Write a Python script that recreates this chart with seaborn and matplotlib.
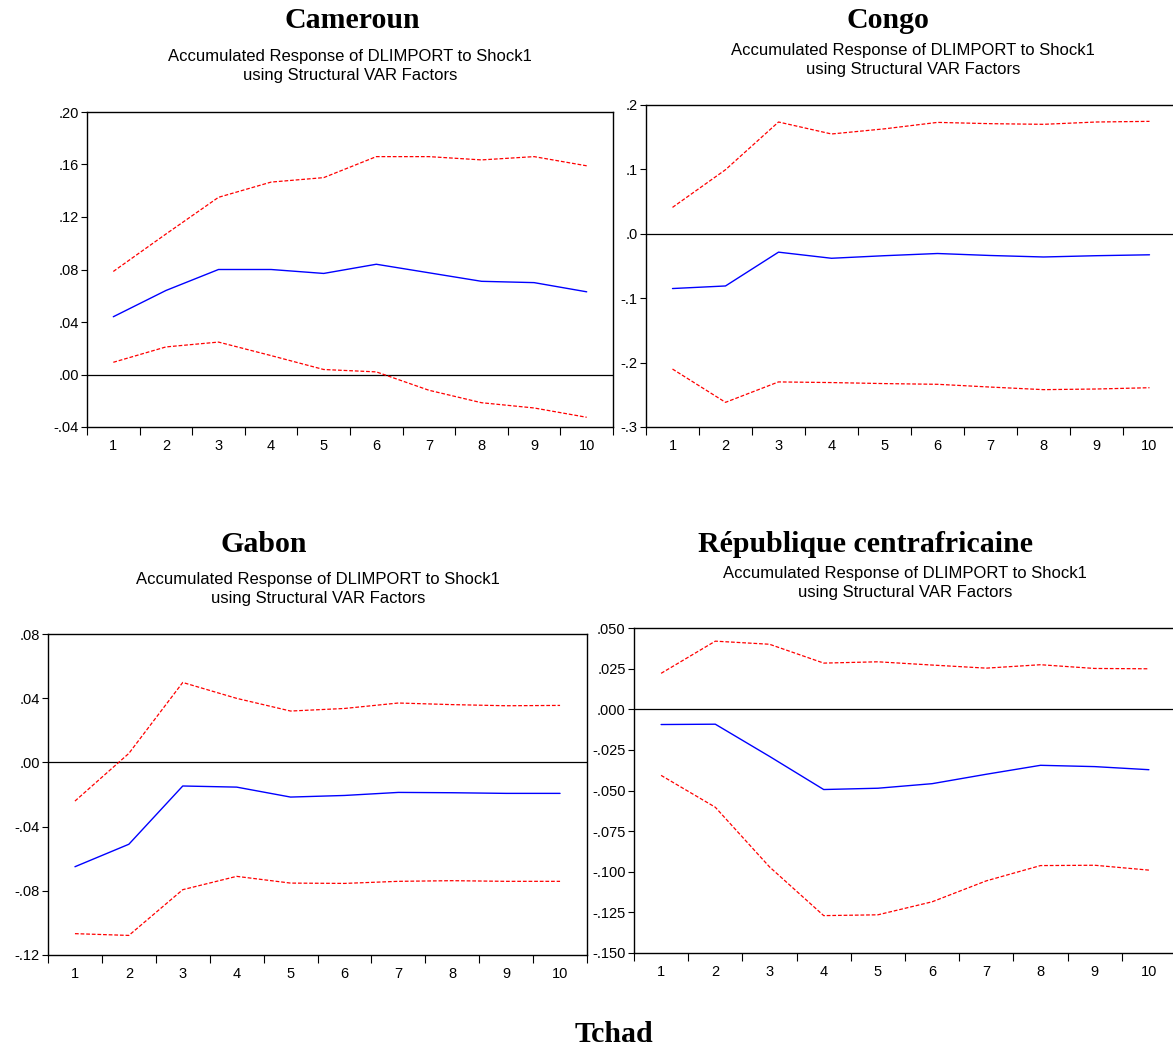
import numpy as np
import pandas as pd
import matplotlib
matplotlib.use("Agg")
import matplotlib.pyplot as plt
import seaborn as sns

sns.set_style("white")
plt.rcParams['font.family'] = ['Liberation Sans', 'DejaVu Sans']
plt.rcParams['text.color'] = 'black'
plt.rcParams['xtick.color'] = 'black'
plt.rcParams['ytick.color'] = 'black'

steps = [1, 2, 3, 4, 5, 6, 7, 8, 9, 10]
subtitle = "Accumulated Response of DLIMPORT to Shock1\nusing Structural VAR Factors"

# Cameroun
cmr_resp = [0.044, 0.064, 0.080, 0.080, 0.077, 0.084, 0.0775, 0.071, 0.070, 0.063]
cmr_up = [0.0785, 0.107, 0.135, 0.1466, 0.150, 0.166, 0.166, 0.1635, 0.166, 0.159]
cmr_lo = [0.0093, 0.021, 0.0247, 0.0144, 0.0038, 0.002, -0.012, -0.0215, -0.0255, -0.0326]
cmr_ticks = [-0.04, 0.00, 0.04, 0.08, 0.12, 0.16, 0.20]
cmr_labels = ["-.04", ".00", ".04", ".08", ".12", ".16", ".20"]

# Congo
cog_resp = [-0.085, -0.081, -0.0285, -0.038, -0.034, -0.0306, -0.0337, -0.036, -0.034, -0.0326]
cog_up = [0.041, 0.0995, 0.1736, 0.155, 0.163, 0.173, 0.171, 0.170, 0.1736, 0.1746]
cog_lo = [-0.21, -0.2617, -0.230, -0.231, -0.2326, -0.2337, -0.238, -0.242, -0.241, -0.239]
cog_ticks = [-0.3, -0.2, -0.1, 0.0, 0.1, 0.2]
cog_labels = ["-.3", "-.2", "-.1", ".0", ".1", ".2"]

# Gabon
gab_resp = [-0.065, -0.051, -0.0147, -0.0154, -0.0216, -0.0206, -0.0187, -0.0189, -0.0193, -0.0193]
gab_up = [-0.0241, 0.0056, 0.0498, 0.0399, 0.032, 0.0336, 0.037, 0.036, 0.0353, 0.0355]
gab_lo = [-0.1067, -0.1078, -0.0793, -0.071, -0.0752, -0.0754, -0.0741, -0.0737, -0.0741, -0.0741]
gab_ticks = [-0.12, -0.08, -0.04, 0.00, 0.04, 0.08]
gab_labels = ["-.12", "-.08", "-.04", ".00", ".04", ".08"]

# Republique centrafricaine
rca_resp = [-0.0094, -0.0092, -0.029, -0.0494, -0.0486, -0.0458, -0.040, -0.0345, -0.0353, -0.0372]
rca_up = [0.0221, 0.0419, 0.040, 0.0284, 0.0292, 0.0272, 0.0253, 0.0274, 0.0251, 0.0249]
rca_lo = [-0.0407, -0.0603, -0.097, -0.127, -0.1265, -0.1185, -0.1056, -0.0962, -0.096, -0.099]
rca_ticks = [-0.150, -0.125, -0.100, -0.075, -0.050, -0.025, 0.000, 0.025, 0.050]
rca_labels = ["-.150", "-.125", "-.100", "-.075", "-.050", "-.025", ".000", ".025", ".050"]

W, H = 1173, 1049
fig = plt.figure(figsize=(W / 100, H / 100), dpi=100)


def px_axes(l, t, r, b):
    return fig.add_axes([l / W, 1 - b / H, (r - l) / W, (b - t) / H])


def draw(ax, resp, up, lo, ticks, labels):
    sns.lineplot(x=steps, y=up, ax=ax, color="#ff0000", lw=0.9, linestyle=(0, (3, 1.5)))
    sns.lineplot(x=steps, y=lo, ax=ax, color="#ff0000", lw=0.9, linestyle=(0, (3, 1.5)))
    sns.lineplot(x=steps, y=resp, ax=ax, color="#0000ff", lw=1.0)
    ax.axhline(0, color="black", lw=0.9, zorder=1)
    ax.set_xlim(0.5, 10.5)
    ax.set_ylim(ticks[0], ticks[-1])
    ax.set_yticks(ticks)
    ax.set_yticklabels(labels)
    ax.set_xticks(np.arange(0.5, 11, 1))
    ax.set_xticklabels([])
    ax.set_xticks(steps, minor=True)
    ax.set_xticklabels([str(s) for s in steps], minor=True)
    ax.tick_params(axis="x", which="major", direction="out", length=6, width=0.8, bottom=True)
    ax.tick_params(axis="x", which="minor", length=0, pad=9, labelsize=10.5)
    ax.tick_params(axis="y", direction="out", length=4, width=0.8, left=True, pad=2, labelsize=10.5)
    for s in ax.spines.values():
        s.set_color("black")
        s.set_linewidth(1.0)
    ax.set_xlabel("")
    ax.set_ylabel("")


ax1 = px_axes(87, 112, 613, 427)
draw(ax1, cmr_resp, cmr_up, cmr_lo, cmr_ticks, cmr_labels)
ax2 = px_axes(646, 105, 1176, 427)
draw(ax2, cog_resp, cog_up, cog_lo, cog_ticks, cog_labels)
ax3 = px_axes(48, 634, 587, 955)
draw(ax3, gab_resp, gab_up, gab_lo, gab_ticks, gab_labels)
ax4 = px_axes(634, 628, 1176, 953)
draw(ax4, rca_resp, rca_up, rca_lo, rca_ticks, rca_labels)

title_font = dict(family=["Liberation Serif", "DejaVu Serif"], weight="bold", size=21.5)
for name, x, y in [("Cameroun", 352, 21), ("Congo", 888, 21), ("Gabon", 264, 544),
                   ("République centrafricaine", 866, 544), ("Tchad", 614, 1034)]:
    fig.text(x / W, 1 - y / H, name, ha="center", va="center", **title_font)

for x, y in [(350, 66), (913, 60), (318, 589), (905, 583)]:
    fig.text(x / W, 1 - y / H, subtitle, ha="center", va="center", size=12, linespacing=1.4)

fig.savefig("out.png", dpi=100)
